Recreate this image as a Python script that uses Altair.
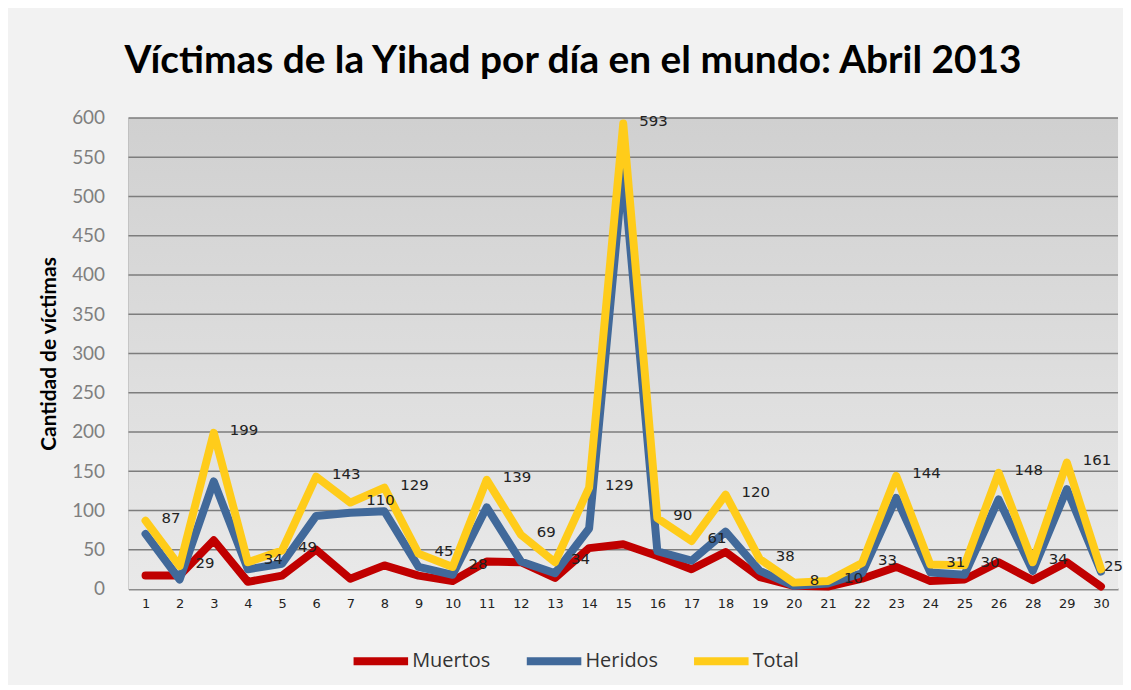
import altair as alt
import pandas as pd

days = ["1","2","3","4","5","6","7","8","9","10","11","12","13","14","15",
        "16","17","18","19","20","21","22","23","24","25","26","28","29","30"]
muertos = [17,17,62,9,17,50,13,30,17,10,35,34,14,52,57,42,25,47,15,4,3,13,28,10,12,34,11,34,3]
heridos = [70,12,137,25,32,93,97,99,28,18,104,35,20,77,536,48,36,73,23,4,7,20,116,21,18,114,23,127,22]
total = [87,29,199,34,49,143,110,129,45,28,139,69,34,129,593,90,61,120,38,8,10,33,144,31,30,148,34,161,25]
y_ticks = list(range(0, 601, 50))

series = ["Muertos", "Heridos", "Total"]
colors = ["#c00000", "#41699a", "#ffcc1a"]

rows = []
for name, vals in zip(series, [muertos, heridos, total]):
    for d, v in zip(days, vals):
        rows.append({"dia": d, "serie": name, "valor": v})
df = pd.DataFrame(rows)
lab = pd.DataFrame({"dia": days, "valor": total})
grid = pd.DataFrame({"valor": y_ticks[1:]})

W, H = 994, 473

xaxis = alt.Axis(labelAngle=0, labelFontSize=13, labelFont="DejaVu Sans",
                 labelColor="#222", labelPadding=9, ticks=False,
                 domainColor="#8c8c8c", domainWidth=2, grid=False)
xenc = alt.X("dia:N", sort=days, title=None,
             scale=alt.Scale(type="point", padding=0.5), axis=xaxis)
yscale = alt.Scale(domain=[0, 600], nice=False)
yaxis = alt.Axis(values=y_ticks, labelFontSize=19, labelFont="Lato",
                 labelColor="#7f7f7f", labelPadding=24, ticks=False,
                 labelOverlap=False, grid=False,
                 domainColor="#9a9a9a", domainWidth=1.5,
                 titleFont="Lato", titleFontSize=21, titleFontWeight="bold",
                 titleColor="#000", titlePadding=12)
yenc = alt.Y("valor:Q", title="Cantidad de víctimas", scale=yscale, axis=yaxis)
cenc = alt.Color("serie:N", scale=alt.Scale(domain=series, range=colors),
                 legend=alt.Legend(title=None, orient="none", direction="horizontal",
                                   legendX=222, legendY=514,
                                   symbolType="stroke", symbolSize=3000,
                                   symbolStrokeWidth=8, labelFontSize=20,
                                   labelFont="Open Sans", labelColor="#333",
                                   labelOffset=0, columnPadding=20))

bg = alt.Chart(alt.Data(values=[{}])).mark_rect(
    fill=alt.Gradient(gradient="linear",
                      stops=[alt.GradientStop(color="#d0d0d0", offset=0),
                             alt.GradientStop(color="#e9e9e9", offset=1)],
                      x1=0, x2=0, y1=0, y2=1)
).encode(x=alt.value(0), x2=alt.value(W), y=alt.value(0), y2=alt.value(H))

gridlines = alt.Chart(grid).mark_rule(color="#7d7d7d", strokeWidth=1.6).encode(
    y=yenc, x=alt.value(0), x2=alt.value(W))

base = alt.Chart(df)
layers = [bg, gridlines]
for s in series:
    layers.append(base.transform_filter(alt.datum.serie == s).mark_line(
        strokeWidth=8, strokeCap="round", strokeJoin="round"
    ).encode(x=xenc, y=yenc, color=cenc))

lab_main = alt.Chart(lab).transform_filter(alt.datum.dia != "30").mark_text(
    align="left", baseline="middle", dx=16, dy=-3,
    fontSize=15, font="DejaVu Sans", color="#222").encode(
    x=xenc, y=yenc, text="valor:Q")
lab_last = alt.Chart(lab).transform_filter(alt.datum.dia == "30").mark_text(
    align="left", baseline="middle", dx=3, dy=-3,
    fontSize=15, font="DejaVu Sans", color="#222").encode(
    x=xenc, y=yenc, text="valor:Q")
layers += [lab_main, lab_last]

chart = alt.layer(*layers).properties(
    width=W, height=H,
    title=alt.Title("Víctimas de la Yihad por día en el mundo: Abril 2013",
                    font="Lato", fontSize=39, fontWeight="bold", color="#000",
                    anchor="start", frame="group", dx=-4, offset=28),
    autosize=alt.AutoSizeParams(type="none"),
    padding={"left": 121, "top": 109, "right": 5, "bottom": 95},
    background="#f2f2f2",
).configure_view(stroke=None)

chart.save("out.html", embed_options={"renderer": "svg", "actions": False})
